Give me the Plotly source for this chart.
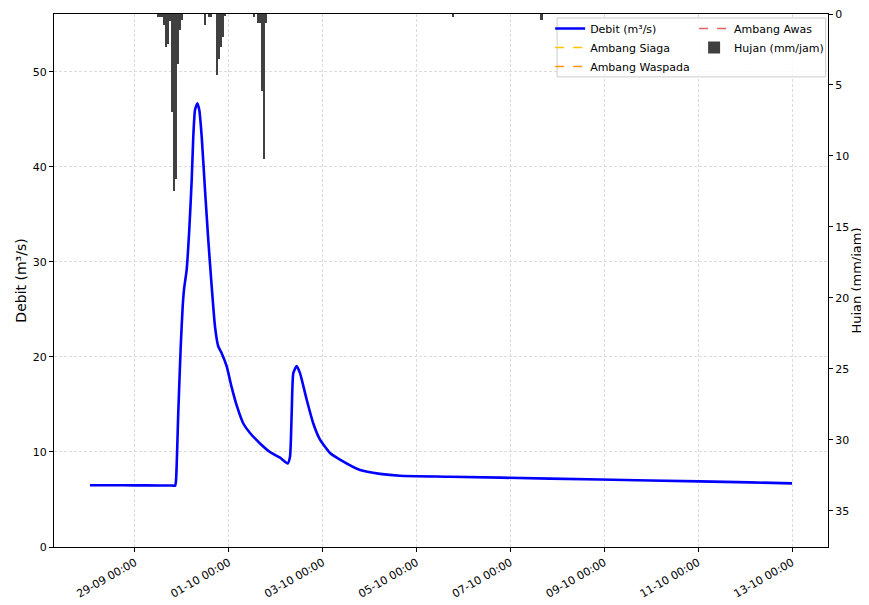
import plotly.graph_objects as go

# ---------------- data ----------------
debit_time = [
    "2024-09-28 01:00", "2024-09-28 12:00", "2024-09-29 00:00", "2024-09-29 12:00",
    "2024-09-29 19:00", "2024-09-29 20:30", "2024-09-29 21:00", "2024-09-29 22:08",
    "2024-09-29 23:22", "2024-09-30 00:23", "2024-09-30 01:04", "2024-09-30 02:26",
    "2024-09-30 03:46", "2024-09-30 05:00", "2024-09-30 05:49", "2024-09-30 06:41",
    "2024-09-30 07:52", "2024-09-30 08:53", "2024-09-30 10:07", "2024-09-30 11:48",
    "2024-09-30 13:29", "2024-09-30 15:14", "2024-09-30 16:55", "2024-09-30 18:36",
    "2024-09-30 20:20", "2024-09-30 22:54", "2024-10-01 01:27", "2024-10-01 04:01",
    "2024-10-01 07:23", "2024-10-01 10:49", "2024-10-01 15:56", "2024-10-01 21:02",
    "2024-10-02 02:10", "2024-10-02 06:05", "2024-10-02 07:16", "2024-10-02 08:08",
    "2024-10-02 08:58", "2024-10-02 10:41", "2024-10-02 12:23", "2024-10-02 15:49",
    "2024-10-02 19:11", "2024-10-02 22:37", "2024-10-03 03:43", "2024-10-03 08:50",
    "2024-10-03 19:06", "2024-10-04 05:18", "2024-10-04 15:30", "2024-10-05 17:06",
    "2024-10-07 20:12", "2024-10-09 23:24", "2024-10-12 02:30", "2024-10-13 00:00",
]
debit_value = [
    6.5, 6.5, 6.49, 6.48,
    6.47, 6.45, 7.05, 14.1,
    21.0, 25.3, 27.1, 29.2,
    33.4, 38.6, 43.2, 46.0,
    46.7, 46.0, 43.2, 37.6,
    32.3, 27.4, 23.2, 21.1,
    20.4, 19.0, 16.8, 14.9,
    13.0, 12.0, 10.9, 10.0,
    9.4, 8.8, 9.5, 14.1,
    18.3, 19.05, 18.3, 15.5,
    13.0, 11.3, 9.9, 9.2,
    8.1, 7.7, 7.5, 7.4,
    7.2, 7.0, 6.8, 6.7,
]

hujan_time = [
    "2024-09-29 12:00", "2024-09-29 13:00", "2024-09-29 14:00", "2024-09-29 15:00",
    "2024-09-29 16:00", "2024-09-29 17:00", "2024-09-29 18:00", "2024-09-29 19:00",
    "2024-09-29 20:00", "2024-09-29 21:00", "2024-09-29 22:00", "2024-09-29 23:00",
    "2024-09-30 00:00",
    "2024-09-30 12:00", "2024-09-30 14:00", "2024-09-30 15:00", "2024-09-30 18:00",
    "2024-09-30 19:00", "2024-09-30 20:00", "2024-09-30 21:00", "2024-09-30 22:00",
    "2024-10-01 13:00", "2024-10-01 15:00", "2024-10-01 16:00", "2024-10-01 17:00",
    "2024-10-01 18:00", "2024-10-01 19:00",
    "2024-10-05 18:40", "2024-10-07 16:00",
]
hujan_value = [
    0.2, 0.2, 0.2, 0.8,
    2.3, 2.1, 0.5, 6.9,
    12.5, 11.6, 3.5, 1.1,
    0.4,
    0.8, 0.2, 0.2, 4.3,
    3.2, 2.3, 1.6, 0.1,
    0.2, 0.6, 0.6, 5.4,
    10.2, 0.6,
    0.2, 0.4,
]

x_ticks = ["2024-09-29", "2024-10-01", "2024-10-03", "2024-10-05",
           "2024-10-07", "2024-10-09", "2024-10-11", "2024-10-13"]
x_tick_labels = ["29-09 00:00", "01-10 00:00", "03-10 00:00", "05-10 00:00",
                 "07-10 00:00", "09-10 00:00", "11-10 00:00", "13-10 00:00"]

FONT = "DejaVu Sans"

fig = go.Figure()

fig.add_trace(go.Scatter(
    x=debit_time, y=debit_value, mode="lines", name="Debit (m³/s)",
    line=dict(color="#0000ff", width=2.6, shape="spline", smoothing=0.5),
    legend="legend",
))
fig.add_trace(go.Scatter(
    x=[None], y=[None], mode="lines", name="Ambang Siaga",
    line=dict(color="#ffc400", width=1.5, dash="dash"), legend="legend",
))
fig.add_trace(go.Scatter(
    x=[None], y=[None], mode="lines", name="Ambang Waspada",
    line=dict(color="#ff9800", width=1.5, dash="dash"), legend="legend",
))
fig.add_trace(go.Scatter(
    x=[None], y=[None], mode="lines", name="Ambang Awas",
    line=dict(color="#e06060", width=1.5, dash="dash"), legend="legend2",
))
fig.add_trace(go.Bar(
    x=hujan_time, y=hujan_value, name="Hujan (mm/jam)", yaxis="y2",
    marker=dict(color="#404040", line=dict(width=0)), width=3600000 * 0.9,
    legend="legend2",
))

axis_common = dict(
    showline=True, linecolor="black", linewidth=1,
    ticks="outside", ticklen=4, tickcolor="black",
    tickfont=dict(family=FONT, size=11, color="black"),
    zeroline=False, ticklabeloverflow="allow",
)

# page body has an 8px margin, so the figure is 8px smaller and margins shifted
fig.update_layout(
    width=861, height=597,
    margin=dict(l=46, r=41, t=6, b=58, autoexpand=False),
    paper_bgcolor="white", plot_bgcolor="white",
    font=dict(family=FONT, size=11, color="black"),
    bargap=0,
    xaxis=dict(
        **axis_common, mirror=True,
        range=["2024-09-27 06:35", "2024-10-13 18:24"],
        tickmode="array", tickvals=x_ticks, ticktext=x_tick_labels,
        tickangle=-30,
        showgrid=True, gridcolor="#dcdcdc", griddash="3px,2px", gridwidth=1,
    ),
    yaxis=dict(
        **axis_common, mirror=True,
        range=[0, 56.1], tickvals=[0, 10, 20, 30, 40, 50],
        showgrid=True, gridcolor="#dcdcdc", griddash="3px,2px", gridwidth=1,
        title=dict(text="Debit (m³/s)", font=dict(family=FONT, size=14), standoff=2),
    ),
    yaxis2=dict(
        **axis_common, overlaying="y", side="right",
        range=[37.55, 0], tickvals=[0, 5, 10, 15, 20, 25, 30, 35],
        showgrid=False,
        title=dict(text="Hujan (mm/jam)", font=dict(family=FONT, size=13), standoff=3),
    ),
    legend=dict(
        x=0.641, y=1.0, xanchor="left", yanchor="top",
        bgcolor="rgba(0,0,0,0)", borderwidth=0,
        font=dict(family=FONT, size=11), tracegroupgap=0,
    ),
    legend2=dict(
        x=0.827, y=1.0, xanchor="left", yanchor="top",
        bgcolor="rgba(0,0,0,0)", borderwidth=0,
        font=dict(family=FONT, size=11), tracegroupgap=0,
    ),
    shapes=[dict(
        type="rect", xref="paper", yref="paper",
        x0=0.650, x1=0.997, y0=0.882, y1=0.9925,
        line=dict(color="#cccccc", width=1), fillcolor="rgba(255,255,255,0.85)",
        layer="above",
    )],
)

fig.write_html("out.html")
